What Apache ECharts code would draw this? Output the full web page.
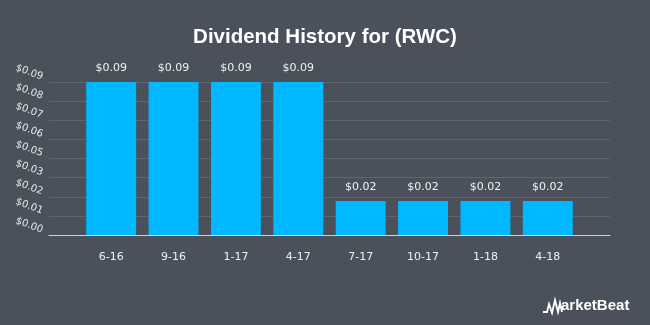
<!DOCTYPE html>
<html>
<head>
<meta charset="utf-8">
<script src="https://cdn.jsdelivr.net/npm/echarts@6/dist/echarts.min.js"></script>
<style>html,body{margin:0;padding:0;background:#4b515b;}#c{width:650px;height:325px;}</style>
</head>
<body>
<div id="c"></div>
<script>
var categories = ['6-16','9-16','1-17','4-17','7-17','10-17','1-18','4-18'];
var dividends = [0.09, 0.09, 0.09, 0.09, 0.02, 0.02, 0.02, 0.02];
var yTickLabels = ['$0.00','$0.01','$0.02','$0.03','$0.05','$0.06','$0.07','$0.08','$0.09'];
var yMax = 0.09;
var yStep = 0.01125;

var chart = echarts.init(document.getElementById('c'), null, {renderer:'canvas'});
chart.setOption({
  backgroundColor: '#4b515b',
  animation: false,
  title: {
    text: 'Dividend History for (RWC)',
    left: 'center', top: 22,
    textStyle: {color:'#ffffff', fontSize:20.5, fontWeight:'bold', fontFamily:'Liberation Sans'}
  },
  grid: [
    {left:49, right:40, top:82, bottom:90},
    {left:80, right:71, top:82, bottom:90}
  ],
  xAxis: [
    {gridIndex:0, type:'value', min:0, max:1, axisLine:{show:true, lineStyle:{color:'#cfd2d6', width:1}},
     axisTick:{show:false}, axisLabel:{show:false}, splitLine:{show:false}},
    {gridIndex:1, type:'category', data:categories, axisLine:{show:false}, axisTick:{show:false},
     axisLabel:{color:'#f0f0f0', fontSize:11, margin:17, fontFamily:'DejaVu Sans'}}
  ],
  yAxis: [
    {gridIndex:0, type:'value', min:0, max:yMax, interval:yStep,
     axisLine:{show:false}, axisTick:{show:false},
     splitLine:{lineStyle:{color:'#5f656e', width:1}},
     axisLabel:{color:'#e8e8e8', fontSize:10, rotate:-20, margin:8, verticalAlign:'bottom', fontFamily:'DejaVu Sans',
       formatter:function(v){ return yTickLabels[Math.round(v/yStep)]; }}},
    {gridIndex:1, type:'value', min:0, max:yMax, show:false, splitLine:{show:false}}
  ],
  series: [{
    type:'bar', xAxisIndex:1, yAxisIndex:1, data:dividends,
    barCategoryGap:'20%',
    itemStyle:{color:'#00b8ff'},
    label:{show:true, position:'top', distance:8, color:'#f2f2f2', fontSize:11, fontFamily:'DejaVu Sans',
      formatter:function(p){ return '$' + p.value.toFixed(2); }}
  }],
  graphic: [
    {type:'polyline', shape:{points:[[543,312],[547,312],[549,304],[552,313],[555,300],[558,312],[560,303],[562,312]]},
     style:{stroke:'#ffffff', lineWidth:1.8, fill:null}},
    {type:'text', left:561, top:298, style:{text:'arketBeat', fill:'#ffffff', fontSize:15, fontWeight:'bold', fontFamily:'Liberation Sans'}}
  ]
});
</script>
</body>
</html>
